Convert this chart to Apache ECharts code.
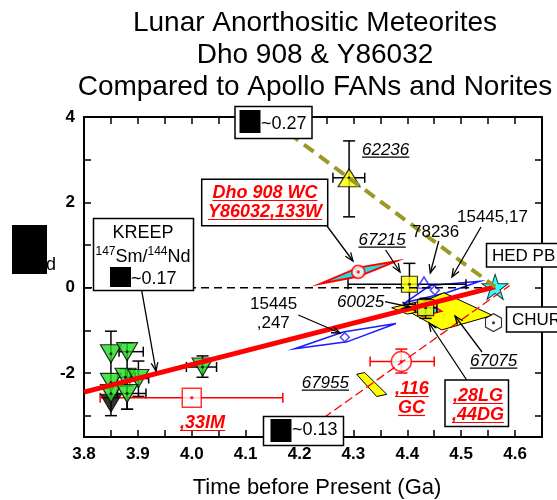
<!DOCTYPE html>
<html><head><meta charset="utf-8">
<script src="https://cdn.jsdelivr.net/npm/echarts@6/dist/echarts.min.js"></script>
<style>html,body{margin:0;padding:0;background:#fff}#c{width:557px;height:500px}</style>
</head><body><div id="c"></div>
<script>
const FONT = '"Liberation Sans", Arial, Helvetica, sans-serif';

// ---------------- data ----------------
const xTickValues = [3.8,3.85,3.9,3.95,4.0,4.05,4.1,4.15,4.2,4.25,4.3,4.35,4.4,4.45,4.5,4.55,4.6,4.65];
const xLabelValues = [3.8,3.9,4.0,4.1,4.2,4.3,4.4,4.5,4.6];
const yTickValues = [-3,-2,-1,0,1,2,3,4];
const yLabelValues = [-2,0,2,4];

// KREEP basalts (green down-triangles) [age Ga, eNd]
const kreepPoints = [[3.850,-1.55],[3.880,-1.50],[3.850,-2.22],[3.877,-2.10],[3.901,-2.13],[3.850,-2.48],[3.880,-2.48],[4.020,-1.86]];
const kreepBlackPoint = [[3.850,-2.71]];
// [age, eNd, ageLo, ageHi, eNdLo, eNdHi]
const kreepErrors = [
  [3.850,-1.55,null,null,-3.00,-1.02],
  [3.880,-1.50,3.865,3.910,-2.85,-1.30],
  [3.877,-2.10,3.862,3.895,-2.30,-1.90],
  [3.901,-2.13,3.885,3.920,-2.55,-1.72],
  [3.880,-2.48,3.862,3.915,-2.85,-2.30],
  [4.020,-1.86,3.990,4.046,-2.10,-1.60]
];
const fan62236 = [[4.292,2.575]];
const fan62236Err = [[4.292,2.575,4.262,4.321,1.66,3.44]];
const noriteSquares = [[4.404,0.08],[4.434,-0.47]];          // 67215, 60025
const noriteSquaresErr = [[4.404,0.08,4.290,4.509,-0.39,0.57],[4.434,-0.47,4.415,4.455,-0.72,-0.25]];
const hedPbPoint = [[4.563,0.02]];
const churPoint = [[4.560,-0.82]];
const gc116 = [[4.389,-1.73]];
const gc116Err = [[4.389,-1.73,4.331,4.450,-2.00,-1.44]];
const im33 = [[4.000,-2.58]];
const im33Err = [[4.000,-2.58,3.830,4.169,null,null]];
const dhoWC = [[4.309,0.37]];
const sample78236 = [[4.431,0.12]];
const sample15445_17 = [[4.451,-0.06]];
const sample15445_247 = [[4.284,-1.16]];

// reference lines
const kreepLine = [[3.80,-2.45],[4.563,0.02]];
const line027 = [[4.18,3.62],[4.563,0.02]];
const churLine = [[3.80,0.0],[4.563,0.0]];
const line013 = [[4.245,-3.05],[4.590,0.05]];

// isochron error shapes (vertices)
const shapeDho = [[4.238,0.09],[4.309,0.47],[4.379,0.62],[4.309,0.26]];
const shape15445_17 = [[4.396,-0.35],[4.442,0.05],[4.535,0.15],[4.473,-0.12]];
const shape15445_247 = [[4.191,-1.43],[4.281,-1.04],[4.379,-0.84],[4.288,-1.27]];
const shape67075 = [[4.396,-0.51],[4.468,-0.12],[4.558,-0.65],[4.464,-0.99]];
const shape60025 = [[4.371,-0.47],[4.420,-0.33],[4.445,-0.50],[4.400,-0.62]];
const shapeY86032 = [[4.408,-0.49],[4.442,-0.39],[4.464,-0.55],[4.427,-0.67]];
const shape67955 = [[4.306,-2.03],[4.321,-1.99],[4.362,-2.50],[4.343,-2.55]];

// ---------------- helpers ----------------
function polySeries(polys, fill, stroke, lw) {
  return {
    type:'custom', clip:false, silent:true,
    data: polys.map(p => p[0]),
    renderItem: (params, api) => ({
      type:'polygon',
      shape:{points: polys[params.dataIndex].map(pt => api.coord(pt))},
      style:{fill: fill, stroke: stroke, lineWidth: lw}
    })
  };
}
function errSeries(errs, color) {
  return {
    type:'custom', clip:false, silent:true,
    data: errs.map(e => [e[0], e[1]]),
    renderItem: (params, api) => {
      const e = errs[params.dataIndex];
      const st = {stroke:color, lineWidth:1.5};
      const ch = [];
      const seg = (x1,y1,x2,y2) => ch.push({type:'line', shape:{x1,y1,x2,y2}, style:st});
      if (e[2] != null) {
        const a = api.coord([e[2], e[1]]), b = api.coord([e[3], e[1]]);
        seg(a[0],a[1],b[0],b[1]);
        seg(a[0],a[1]-5,a[0],a[1]+5);
        seg(b[0],b[1]-5,b[0],b[1]+5);
      }
      if (e[4] != null) {
        const a = api.coord([e[0], e[4]]), b = api.coord([e[0], e[5]]);
        seg(a[0],a[1],b[0],b[1]);
        seg(a[0]-6,a[1],a[0]+6,a[1]);
        seg(b[0]-6,b[1],b[0]+6,b[1]);
      }
      return {type:'group', children: ch};
    }
  };
}
function lineSeries(data, color, width, type) {
  return {type:'line', data, symbol:'none', silent:true,
    lineStyle:{color, width, type: type || 'solid'}};
}
const starPath = 'path://M50,0L61.23,34.55L97.55,34.55L68.17,55.9L79.39,90.45L50,69.1L20.61,90.45L31.83,55.9L2.45,34.55L38.77,34.55Z';
const hexPath = 'path://M50,0L93.3,25L93.3,75L50,100L6.7,75L6.7,25Z';

// ---------------- graphic annotations ----------------
const ctx = document.createElement('canvas').getContext('2d');
const G = [];
function measure(str, size, weight, fstyle) {
  ctx.font = (fstyle || 'normal') + ' ' + (weight || 'normal') + ' ' + size + 'px ' + FONT;
  return ctx.measureText(str).width;
}
function txt(str, x, cy, o) {
  o = o || {};
  const size = o.size || 17, weight = o.weight || 'normal', fstyle = o.italic ? 'italic' : 'normal';
  const color = o.color || '#000', align = o.align || 'left';
  G.push({type:'text', z:100, x, y:cy, style:{text:str, fontSize:size, fontFamily:FONT, fontWeight:weight,
    fontStyle:fstyle, fill:color, align, verticalAlign:'middle'}});
  if (o.underline) {
    const w = measure(str, size, weight, fstyle);
    const x0 = align === 'center' ? x - w/2 : x;
    const yl = cy + size*0.36 + 1;
    G.push({type:'line', z:100, shape:{x1:x0, y1:yl, x2:x0+w, y2:yl}, style:{stroke:color, lineWidth:1.2}});
  }
}
function box(x, y, w, h) {
  G.push({type:'rect', z:99, shape:{x, y, width:w, height:h}, style:{fill:'#fff', stroke:'#000', lineWidth:1.5}});
}
function blk(x, y, w, h) {
  G.push({type:'rect', z:100, shape:{x, y, width:w, height:h}, style:{fill:'#000'}});
}
function arrow(x1, y1, x2, y2) {
  const ang = Math.atan2(y2-y1, x2-x1), L = 9, a = 0.38;
  const p1 = [x2 - L*Math.cos(ang-a), y2 - L*Math.sin(ang-a)];
  const p2 = [x2 - L*Math.cos(ang+a), y2 - L*Math.sin(ang+a)];
  G.push({type:'line', z:98, shape:{x1,y1,x2,y2}, style:{stroke:'#000', lineWidth:1.3}});
  G.push({type:'polyline', z:98, shape:{points:[p1,[x2,y2],p2]}, style:{stroke:'#000', lineWidth:1.3, fill:null}});
}
// line with superscripts, centred on cx
function supLine(parts, cx, cy) {
  const ws = parts.map(p => measure(p[0], p[1] ? 12 : 18));
  let x = cx - ws.reduce((a, b) => a + b, 0) / 2;
  parts.forEach((p, i) => {
    txt(p[0], x, p[1] ? cy - 5 : cy, {size: p[1] ? 12 : 18});
    x += ws[i];
  });
}

// title
txt('Lunar Anorthositic Meteorites', 315, 23, {size:28, align:'center'});
txt('Dho 908 & Y86032', 315, 55, {size:28, align:'center'});
txt('Compared to Apollo FANs and Norites', 315, 87, {size:28, align:'center'});
// axis titles
txt('Time before Present (Ga)', 317, 488, {size:22, align:'center'});
G.push({type:'text', z:100, x:12, y:225, style:{text:'{b|εN}', verticalAlign:'top', align:'left',
  rich:{b:{backgroundColor:'#000', color:'#000', width:35, height:49, fontSize:18, fontFamily:FONT, align:'center'}}}});
txt('d', 46, 265, {size:18});

// arrows
arrow(141.7, 290.7, 156, 371);
arrow(327, 226, 353, 261);
arrow(385.7, 250, 400, 272);
arrow(438.7, 241, 430.3, 273);
arrow(481, 227, 452, 277);
arrow(385, 301.7, 410, 307);
arrow(298.3, 315, 340, 333);
arrow(482, 352, 455, 316);
arrow(466.7, 380, 429, 323);

// boxes
box(235, 106.5, 77, 32); blk(239.5, 110, 21, 23); txt('~0.27', 261, 124, {size:18});
box(263.5, 416.5, 80, 29); blk(270.5, 419, 21, 23); txt('~0.13', 292, 430.5, {size:18});
box(93.5, 218.5, 100, 72);
txt('KREEP', 143, 233.5, {size:18, align:'center'});
supLine([['147', true], ['Sm/', false], ['144', true], ['Nd', false]], 143, 257);
blk(110, 267, 21, 20); txt('~0.17', 131, 279, {size:18});
box(201.7, 179.3, 126, 46.5);
txt('Dho 908 WC', 265, 193, {size:18, weight:'bold', italic:true, color:'#ff0000', align:'center', underline:true});
txt('Y86032,133W', 265, 212, {size:18, weight:'bold', italic:true, color:'#ff0000', align:'center', underline:true});
box(445, 380, 63.5, 46.5);
txt(',28LG', 478, 396, {size:18, weight:'bold', italic:true, color:'#ff0000', align:'center', underline:true});
txt(',44DG', 478, 415, {size:18, weight:'bold', italic:true, color:'#ff0000', align:'center', underline:true});
box(486.5, 243.5, 90, 23.5); txt('HED PB', 492, 256, {size:17});
box(506.5, 307, 90, 25); txt('CHUR', 512, 320.5, {size:17});

// sample labels
txt('62236', 362, 150, {italic:true, underline:true});
txt('67215', 358.5, 240, {italic:true, underline:true});
txt('78236', 412, 232);
txt('15445,17', 457, 217);
txt('60025', 337, 302.5, {italic:true});
txt('15445', 250, 304);
txt(',247', 256.7, 323);
txt('67075', 470, 361, {italic:true, underline:true});
txt('67955', 301.7, 383, {italic:true, underline:true});
txt(',116', 395, 389, {size:18, weight:'bold', italic:true, color:'#ff0000', underline:true});
txt('GC', 398, 408, {size:18, weight:'bold', italic:true, color:'#ff0000', underline:true});
txt(',33IM', 180, 423, {size:18, weight:'bold', italic:true, color:'#ff0000', underline:true});

// ---------------- axes ----------------
function xAx(pos, labels) {
  return {type:'value', min:3.8, max:4.65, position:pos,
    axisLine:{show:true, onZero:false, lineStyle:{color:'#000', width:2}},
    axisTick:{show:true, inside:true, length:7, customValues:xTickValues, lineStyle:{color:'#000', width:1.5}},
    axisLabel:{show:labels, customValues:xLabelValues, formatter:v => v.toFixed(1), fontSize:17, fontWeight:'bold',
      color:'#000', fontFamily:FONT, margin:9},
    splitLine:{show:false}};
}
function yAx(pos, labels) {
  return {type:'value', min:-3.5, max:4, position:pos,
    axisLine:{show:true, onZero:false, lineStyle:{color:'#000', width:2}},
    axisTick:{show:true, inside:true, length:7, customValues:yTickValues, lineStyle:{color:'#000', width:1.5}},
    axisLabel:{show:labels, customValues:yLabelValues, fontSize:17, fontWeight:'bold', color:'#000', fontFamily:FONT, margin:9},
    splitLine:{show:false}};
}

const dots = [].concat(kreepPoints, fan62236, noriteSquares, churPoint);
const redDots = [].concat(gc116, im33, dhoWC);

const option = {
  animation:false,
  backgroundColor:'#fff',
  grid:{left:84, right:15, top:117, bottom:63, containLabel:false},
  xAxis:[xAx('bottom', true), xAx('top', false)],
  yAxis:[yAx('left', true), yAx('right', false)],
  series:[
    lineSeries(churLine, '#000', 1.5, [8,5]),
    lineSeries(kreepLine, '#ff0000', 5),
    lineSeries(line027, '#999926', 4, [12,7]),
    lineSeries(line013, '#ff0000', 1.3, [9,4]),
    polySeries([shape15445_247], 'none', '#1a1aff', 1.5),
    polySeries([shape15445_17], 'none', '#1a1aff', 1.5),
    polySeries([shapeDho], '#22e0e0', '#ff0000', 2),
    polySeries([shape67955], '#ffff00', '#000', 1),
    polySeries([shape67075], '#ffff00', '#000', 1),
    polySeries([shape60025], '#ffff00', '#000', 1),
    polySeries([shapeY86032], '#22e0e0', '#ff0000', 1.5),
    errSeries(kreepErrors, '#000'),
    errSeries(fan62236Err, '#000'),
    errSeries(noriteSquaresErr, '#000'),
    errSeries(gc116Err, '#ff0000'),
    errSeries(im33Err, '#ff0000'),
    {type:'scatter', data:kreepBlackPoint, symbol:'triangle', symbolRotate:180, symbolSize:[21,18],
      itemStyle:{color:'#000', borderColor:'#000', borderWidth:1}},
    {type:'scatter', data:kreepPoints, symbol:'triangle', symbolRotate:180, symbolSize:[21,18],
      itemStyle:{color:'#22dd22', borderColor:'#000', borderWidth:1.2}},
    {type:'scatter', data:fan62236, symbol:'triangle', symbolSize:[22,18],
      itemStyle:{color:'#ffff00', borderColor:'#000', borderWidth:1.2}},
    {type:'scatter', data:noriteSquares, symbol:'rect', symbolSize:16,
      itemStyle:{color:'#ffff00', borderColor:'#000', borderWidth:1.2}},
    {type:'scatter', data:sample78236, symbol:'triangle', symbolSize:[14,11],
      itemStyle:{color:'rgba(0,0,0,0)', borderColor:'#1a1aff', borderWidth:1.5}},
    {type:'scatter', data:sample15445_17.concat(sample15445_247), symbol:'diamond', symbolSize:9,
      itemStyle:{color:'#fff', borderColor:'#1a1aff', borderWidth:1.5}},
    {type:'scatter', data:gc116, symbol:'circle', symbolSize:20,
      itemStyle:{color:'#fff', borderColor:'#ff0000', borderWidth:1.5}},
    {type:'scatter', data:im33, symbol:'rect', symbolSize:19,
      itemStyle:{color:'#fff', borderColor:'#ff0000', borderWidth:1.5}},
    {type:'scatter', data:dhoWC, symbol:'circle', symbolSize:13,
      itemStyle:{color:'#fff', borderColor:'#ff0000', borderWidth:1.8}},
    {type:'scatter', data:churPoint, symbol:hexPath, symbolSize:[16,18],
      itemStyle:{color:'#fff', borderColor:'#000', borderWidth:1.2}},
    {type:'scatter', data:hedPbPoint, symbol:starPath, symbolSize:[26,25],
      itemStyle:{color:'#00ffff', borderColor:'#000', borderWidth:1}},
    {type:'scatter', data:dots, symbol:'circle', symbolSize:3, itemStyle:{color:'#000'}},
    {type:'scatter', data:redDots, symbol:'circle', symbolSize:3.5, itemStyle:{color:'#ff0000'}}
  ],
  graphic:{elements:G}
};
const chart = echarts.init(document.getElementById('c'), null, {renderer:'canvas'});
chart.setOption(option);
</script>
</body></html>
